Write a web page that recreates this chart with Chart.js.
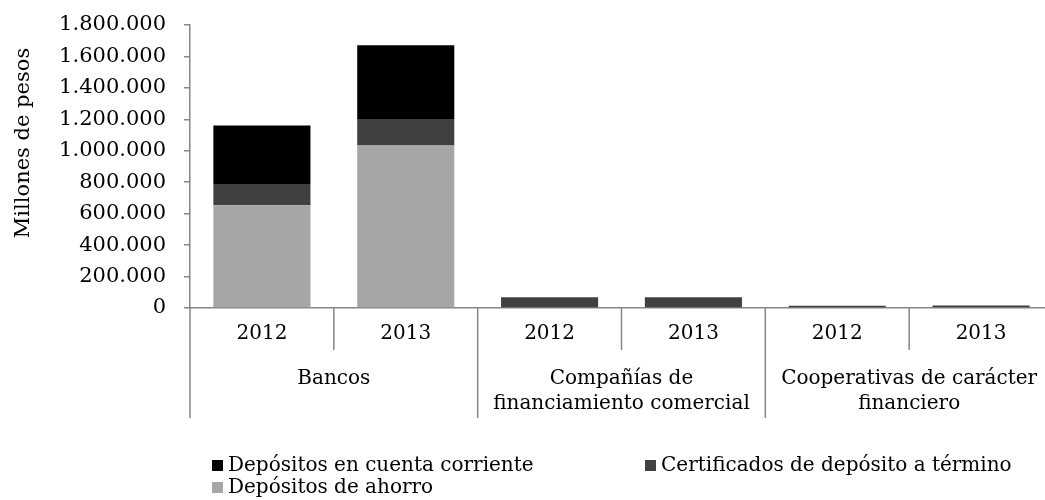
<!DOCTYPE html>
<html><head><meta charset="utf-8">
<script src="https://cdn.jsdelivr.net/npm/chart.js@4.4.1/dist/chart.umd.min.js"></script>
<style>
html,body{margin:0;padding:0;overflow:hidden;background:#fff;width:1045px;height:500px}
#wrap{width:1060px;height:500px;position:relative}
</style></head>
<body><div id="wrap"><canvas id="c" width="1060" height="500"></canvas></div>
<script>
const years = ['2012', '2013', '2012', '2013', '2012', '2013'];
const groups = [['Bancos'], ['Compañías de', 'financiamiento comercial'], ['Cooperativas de carácter', 'financiero']];
const ahorro = [653000, 1033000, 0, 0, 0, 0];
const certificados = [135000, 165000, 68000, 68000, 15000, 16000];
const corriente = [372000, 473000, 0, 0, 0, 0];
const seriesNames = ['Depósitos en cuenta corriente', 'Certificados de depósito a término', 'Depósitos de ahorro'];
const seriesColors = ['#000000', '#404040', '#A6A6A6'];
const yTitle = 'Millones de pesos';

const FONT = "'DejaVu Serif', 'Liberation Serif', serif";
const FS = 20;
const AXIS = '#868686';
Chart.defaults.font.family = FONT;
Chart.defaults.font.size = FS;
Chart.defaults.color = '#000';

function fmt(v) { return String(v).replace(/\B(?=(\d{3})+(?!\d))/g, '.'); }

const extras = {
  id: 'extras',
  afterDraw(chart) {
    const ctx = chart.ctx;
    const x = chart.scales.x;
    const area = chart.chartArea;
    const half = (x.getPixelForValue(1) - x.getPixelForValue(0)) / 2;
    ctx.save();
    ctx.strokeStyle = AXIS;
    ctx.lineWidth = 1.5;
    for (let i = 0; i <= years.length; i++) {
      const px = i < years.length ? x.getPixelForValue(i) - half : x.getPixelForValue(years.length - 1) + half;
      const len = (i % 2 === 0) ? 110 : 42;
      ctx.beginPath();
      ctx.moveTo(px, area.bottom);
      ctx.lineTo(px, area.bottom + len);
      ctx.stroke();
    }
    ctx.fillStyle = '#000';
    ctx.font = FS + 'px ' + FONT;
    ctx.textAlign = 'center';
    ctx.textBaseline = 'middle';
    groups.forEach((lines, g) => {
      const cx = (x.getPixelForValue(2 * g) + x.getPixelForValue(2 * g + 1)) / 2;
      lines.forEach((t, k) => ctx.fillText(t, cx, 379 + k * 25));
    });
    ctx.save();
    ctx.font = '21px ' + FONT;
    ctx.translate(24, 143);
    ctx.rotate(-Math.PI / 2);
    ctx.fillText(yTitle, 0, 0);
    ctx.restore();
    const items = [
      {i: 0, mx: 212, tx: 228, y: 465},
      {i: 1, mx: 645, tx: 661, y: 465},
      {i: 2, mx: 212, tx: 228, y: 487}
    ];
    ctx.textAlign = 'left';
    items.forEach(it => {
      ctx.fillStyle = seriesColors[it.i];
      ctx.fillRect(it.mx, it.y - 5, 11, 11);
      ctx.fillStyle = '#000';
      ctx.fillText(seriesNames[it.i], it.tx, it.y + 1);
    });
    ctx.restore();
  }
};

new Chart(document.getElementById('c'), {
  type: 'bar',
  data: {
    labels: years,
    datasets: [
      {label: seriesNames[2], data: ahorro, backgroundColor: seriesColors[2]},
      {label: seriesNames[1], data: certificados, backgroundColor: seriesColors[1]},
      {label: seriesNames[0], data: corriente, backgroundColor: seriesColors[0]}
    ]
  },
  options: {
    responsive: false,
    devicePixelRatio: 1,
    animation: false,
    layout: {padding: {left: 0, top: 25, right: 7, bottom: 0}},
    datasets: {bar: {categoryPercentage: 1, barPercentage: 0.675, borderWidth: 0}},
    plugins: {legend: {display: false}, tooltip: {enabled: false}},
    scales: {
      x: {
        stacked: true,
        grid: {display: false, drawTicks: false},
        border: {display: true, color: AXIS, width: 1.5},
        ticks: {padding: 14, color: '#000', font: {size: FS}, maxRotation: 0, autoSkip: false},
        afterFit(s) { s.height = 192; s.paddingLeft = 0; s.paddingRight = 0; }
      },
      y: {
        stacked: true,
        min: 0, max: 1800000,
        grid: {display: true, drawOnChartArea: false, drawTicks: true, tickLength: 6, color: AXIS, lineWidth: 1.5},
        border: {display: true, color: AXIS, width: 1.5},
        ticks: {stepSize: 200000, padding: 18, color: '#000', font: {size: 21}, callback: v => fmt(v)},
        afterFit(s) { s.width = 190; s.paddingTop = 0; s.paddingBottom = 0; }
      }
    }
  },
  plugins: [extras]
});
</script>
</body></html>
